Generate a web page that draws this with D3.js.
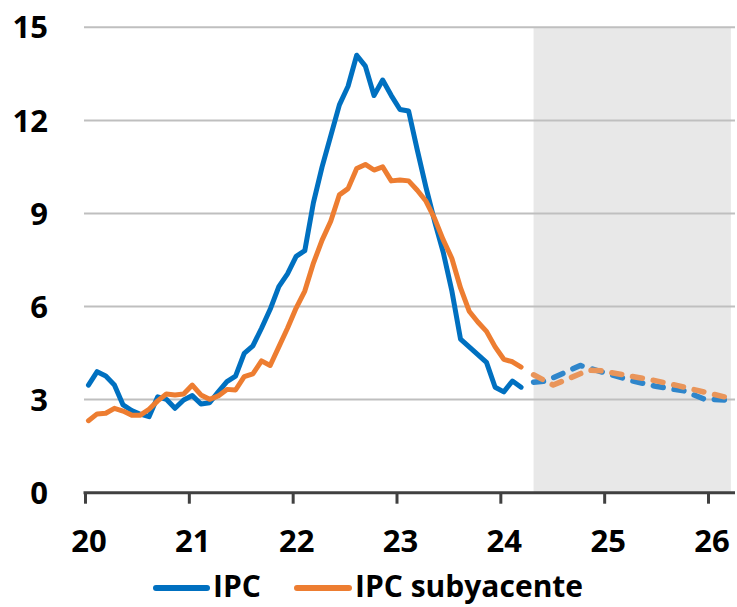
<!DOCTYPE html>
<html>
<head>
<meta charset="utf-8">
<script src="https://cdn.jsdelivr.net/npm/d3@7"></script>
<style>
  html, body { margin: 0; padding: 0; background: #fff; }
  svg { display: block; }
  text { font-family: "Open Sans", "Liberation Sans", sans-serif; font-weight: 700; fill: #000; }
</style>
</head>
<body>
<svg id="chart" width="737" height="607"></svg>
<script>
// ---- Data ----
const startYear = 20; // monthly observations from Jan 2020
const ipc = [
  3.47, 3.90, 3.76, 3.47, 2.83, 2.65, 2.53, 2.45, 3.09, 3.01, 2.72, 2.99,
  3.13, 2.86, 2.90, 3.25, 3.58, 3.76, 4.49, 4.73, 5.30, 5.91, 6.64, 7.05,
  7.62, 7.80, 9.35, 10.5, 11.5, 12.5, 13.1, 14.1, 13.75, 12.8, 13.3, 12.8,
  12.35, 12.3, 11.05, 9.85, 8.75, 7.75, 6.5, 4.95, 4.7, 4.45, 4.2, 3.4,
  3.25, 3.6, 3.4
];
const ipcSub = [
  2.32, 2.54, 2.56, 2.72, 2.63, 2.50, 2.50, 2.69, 2.96, 3.18, 3.15, 3.18,
  3.47, 3.15, 3.01, 3.12, 3.33, 3.31, 3.74, 3.83, 4.25, 4.10, 4.70, 5.30,
  5.95, 6.50, 7.40, 8.14, 8.75, 9.60, 9.80, 10.45, 10.58, 10.40, 10.50, 10.05,
  10.08, 10.05, 9.75, 9.40, 8.84, 8.15, 7.55, 6.60, 5.85, 5.50, 5.20, 4.70,
  4.30, 4.22, 4.05
];
// Projection (dashed)
const ipcProjT   = [24.32, 24.44, 24.77, 25.02, 25.28, 25.51, 25.77, 25.96, 26.22];
const ipcProj    = [3.56, 3.60, 4.10, 3.85, 3.60, 3.42, 3.28, 3.02, 2.98];
const ipcSubProjT = [24.32, 24.51, 24.85, 24.97, 25.23, 25.48, 25.71, 25.93, 26.22];
const ipcSubProj  = [3.80, 3.47, 3.95, 3.93, 3.77, 3.62, 3.45, 3.27, 3.04];
const projRange = [24.32, 26.22];
const xTicks = [20, 21, 22, 23, 24, 25, 26];
const yTicks = [0, 3, 6, 9, 12, 15];
const legendLabels = ["IPC", "IPC subyacente"];

// ---- Styles ----
const blue = "#0070C0", orange = "#ED7D31";
const blueDash = "#2F86CB", orangeDash = "#E9955A";

const svg = d3.select("#chart");
const x = d3.scaleLinear().domain([20, 26]).range([85, 708]);
const y = d3.scaleLinear().domain([0, 15]).range([492.7, 27.3]);
const xEnd = 735;

// shaded projection area
svg.append("rect")
  .attr("x", x(projRange[0])).attr("y", y(15))
  .attr("width", x(projRange[1]) - x(projRange[0]))
  .attr("height", y(0) - y(15))
  .attr("fill", "#E8E8E8");

// gridlines
svg.append("g").selectAll("line").data(yTicks.filter(d => d > 0)).join("line")
  .attr("x1", 84).attr("x2", xEnd)
  .attr("y1", d => y(d)).attr("y2", d => y(d))
  .attr("stroke", "#BFBFBF").attr("stroke-width", 2);

// y labels
svg.append("g").selectAll("text").data(yTicks).join("text")
  .attr("x", 48).attr("y", d => y(d))
  .attr("dy", "0.36em")
  .attr("text-anchor", "end")
  .attr("font-size", 31)
  .text(d => d);

// x axis
const xAxis = d3.axisBottom(x).tickValues(xTicks).tickSize(11).tickSizeOuter(0).tickFormat("");
const gx = svg.append("g").attr("transform", `translate(0,${y(0)})`).call(xAxis);
gx.select(".domain").remove();
gx.selectAll(".tick line").attr("stroke", "#404040").attr("stroke-width", 3);
svg.append("line")
  .attr("x1", x(20) - 1.5).attr("x2", xEnd)
  .attr("y1", y(0)).attr("y2", y(0))
  .attr("stroke", "#404040").attr("stroke-width", 3);

svg.append("g").selectAll("text").data(xTicks).join("text")
  .attr("x", d => x(d) + 4).attr("y", 552)
  .attr("text-anchor", "middle")
  .attr("font-size", 31)
  .text(d => d);

// lines
const tOf = i => startYear + (i + 0.4) / 12;
const line = d3.line().x(d => x(d[0])).y(d => y(d[1]));

const ipcPts = ipc.map((v, i) => [tOf(i), v]);
const subPts = ipcSub.map((v, i) => [tOf(i), v]);
const ipcProjPts = ipcProj.map((v, i) => [ipcProjT[i], v]);
const subProjPts = ipcSubProj.map((v, i) => [ipcSubProjT[i], v]);

function drawLine(pts, color, dashed) {
  svg.append("path").datum(pts)
    .attr("d", line)
    .attr("fill", "none")
    .attr("stroke", color)
    .attr("stroke-width", dashed ? 5.5 : 5)
    .attr("stroke-linejoin", "round")
    .attr("stroke-linecap", "round")
    .attr("stroke-dasharray", dashed ? "10,11" : null);
}
drawLine(ipcProjPts, blueDash, true);
drawLine(subProjPts, orangeDash, true);
drawLine(ipcPts, blue, false);
drawLine(subPts, orange, false);

// legend
const legend = [
  { label: legendLabels[0], color: blue, x1: 156, x2: 207, tx: 213 },
  { label: legendLabels[1], color: orange, x1: 297, x2: 349, tx: 355 }
];
const lg = svg.append("g");
legend.forEach(d => {
  lg.append("line")
    .attr("x1", d.x1).attr("x2", d.x2).attr("y1", 588).attr("y2", 588)
    .attr("stroke", d.color).attr("stroke-width", 6).attr("stroke-linecap", "round");
  lg.append("text")
    .attr("x", d.tx).attr("y", 597)
    .attr("font-size", 30)
    .text(d.label);
});
</script>
</body>
</html>
